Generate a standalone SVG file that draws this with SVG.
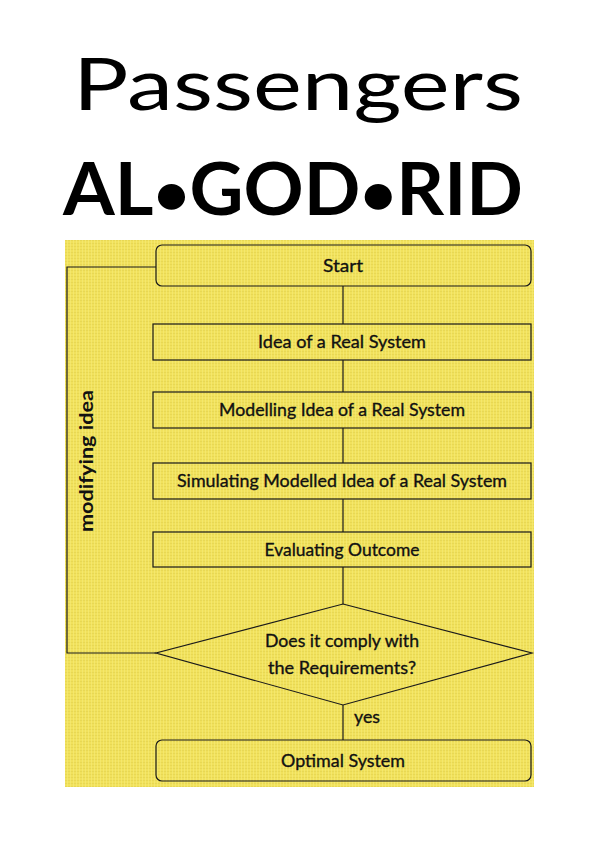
<svg xmlns="http://www.w3.org/2000/svg" width="600" height="849" viewBox="0 0 600 849">
<defs>
<pattern id="tex" width="6" height="6" patternUnits="userSpaceOnUse">
<rect width="6" height="6" fill="#f1e15c"/>
<path d="M0 0.5H6M0 3.5H6" stroke="#e3d24e" stroke-width="0.6"/>
<path d="M1.5 0V6M4.5 0V6" stroke="#f7ec78" stroke-width="0.6"/>
</pattern>
</defs>
<style>
.box{fill:none;stroke:#1a1a1a;stroke-width:1.2}
.lbl{font-family:Lato,"Liberation Sans",sans-serif;font-size:18px;fill:#111;stroke:#111;stroke-width:0.35;text-anchor:middle}
.conn{fill:none;stroke:#1a1a1a;stroke-width:1.2}
</style>
<rect width="600" height="849" fill="#ffffff"/>
<text x="298" y="110" font-family="Lato,'Liberation Sans',sans-serif" font-size="72" text-anchor="middle" textLength="450" lengthAdjust="spacingAndGlyphs" fill="#000">Passengers</text>
<text x="293" y="215" font-family="Lato,'Liberation Sans',sans-serif" font-weight="bold" font-size="72" text-anchor="middle" textLength="460" lengthAdjust="spacingAndGlyphs" fill="#000">AL<tspan font-size="60">•</tspan>GOD<tspan font-size="60">•</tspan>RID</text>
<rect x="65" y="240" width="469" height="547" fill="url(#tex)"/>
<g id="connectors">
<path class="conn" d="M343 286V324M343 360V392M343 428V463M343 499V532M343 567V604M343 705V740"/>
<path class="conn" d="M156 267H67V653H156"/>
</g>
<g id="start"><rect class="box" x="156" y="245" width="375" height="41" rx="6"/><text class="lbl" x="343" y="272" textLength="40" lengthAdjust="spacingAndGlyphs">Start</text></g>
<g id="idea"><rect class="box" x="153" y="324" width="378" height="36"/><text class="lbl" x="342" y="348" textLength="168" lengthAdjust="spacingAndGlyphs">Idea of a Real System</text></g>
<g id="modelling"><rect class="box" x="153" y="392" width="378" height="36"/><text class="lbl" x="342" y="416" textLength="246" lengthAdjust="spacingAndGlyphs">Modelling Idea of a Real System</text></g>
<g id="simulating"><rect class="box" x="153" y="463" width="378" height="36"/><text class="lbl" x="342" y="487" textLength="330" lengthAdjust="spacingAndGlyphs">Simulating Modelled Idea of a Real System</text></g>
<g id="evaluating"><rect class="box" x="153" y="532" width="378" height="35"/><text class="lbl" x="342" y="556" textLength="155" lengthAdjust="spacingAndGlyphs">Evaluating Outcome</text></g>
<g id="decision"><path class="box" d="M343 604L532 653L343 705L156 653Z"/><text class="lbl" x="342" y="647" textLength="154" lengthAdjust="spacingAndGlyphs">Does it comply with</text><text class="lbl" x="342" y="674" textLength="148" lengthAdjust="spacingAndGlyphs">the Requirements?</text></g>
<g id="optimal"><rect class="box" x="156" y="740" width="375" height="41" rx="6"/><text class="lbl" x="343" y="767" textLength="124" lengthAdjust="spacingAndGlyphs">Optimal System</text></g>
<text class="lbl" x="367" y="723" textLength="26" lengthAdjust="spacingAndGlyphs">yes</text>
<text class="lbl" transform="translate(93 461) rotate(-90)" font-size="16" font-weight="bold" style="stroke-width:0" textLength="142" lengthAdjust="spacingAndGlyphs" x="0" y="0">modifying idea</text>
</svg>
